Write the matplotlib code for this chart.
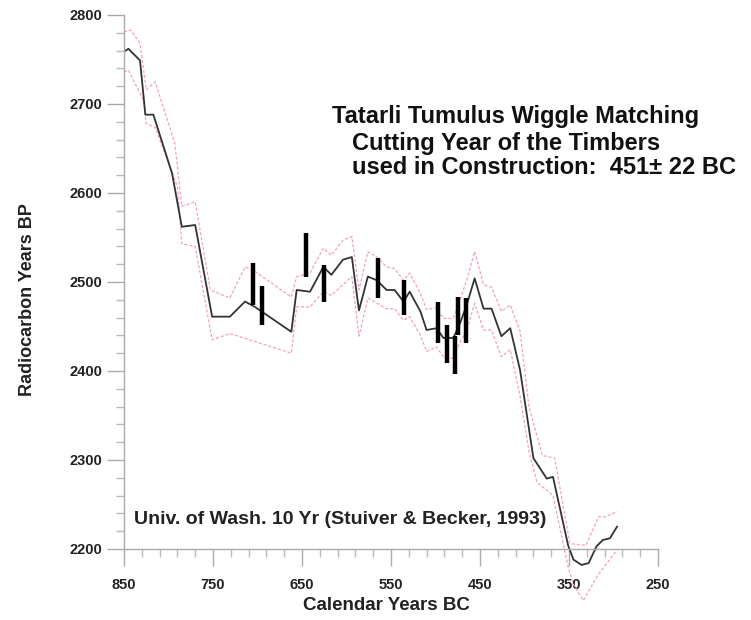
import matplotlib
matplotlib.use('Agg')
import matplotlib.pyplot as plt
import numpy as np

plt.rcParams['font.family'] = ['Liberation Sans', 'DejaVu Sans']

# calibration curve, Univ. of Wash. 10 yr (calendar BC, radiocarbon BP)
cal_bc = [850, 845, 832, 826, 817, 796, 785, 770, 751, 731, 714, 703, 662, 656,
          641, 626, 617, 604, 594, 586, 576, 566, 555, 546, 536, 529, 517, 510,
          499, 491, 480, 473, 465, 456, 446, 437, 426, 416, 405, 390, 375, 368,
          351, 345, 336, 328, 319, 312, 304, 296]
cal_bp = [2759, 2762, 2749, 2688, 2688, 2622, 2562, 2564, 2461, 2461, 2478, 2472,
          2444, 2491, 2489, 2517, 2508, 2525, 2528, 2468, 2506, 2502, 2491, 2491,
          2478, 2489, 2467, 2446, 2448, 2437, 2437, 2452, 2474, 2504, 2470, 2470,
          2439, 2448, 2401, 2302, 2279, 2281, 2204, 2188, 2182, 2184, 2203, 2210,
          2212, 2225]

# upper / lower error envelope
up_bc = [850, 842, 832, 825, 815, 793, 785, 770, 753, 731, 714, 703, 662, 656,
         641, 626, 617, 604, 594, 586, 576, 566, 555, 546, 536, 529, 517, 510,
         499, 491, 480, 473, 465, 456, 446, 437, 426, 416, 405, 395, 380, 366,
         349, 331, 317, 309, 296]
up_bp = [2781, 2783, 2768, 2716, 2725, 2656, 2585, 2590, 2491, 2482, 2517, 2512,
         2483, 2506, 2510, 2538, 2530, 2547, 2551, 2491, 2534, 2528, 2517, 2515,
         2502, 2510, 2487, 2469, 2471, 2459, 2459, 2478, 2502, 2534, 2497, 2494,
         2467, 2474, 2445, 2360, 2305, 2302, 2206, 2204, 2236, 2236, 2242]
lo_bc = [850, 845, 828, 825, 815, 790, 785, 770, 751, 731, 662, 656, 641, 626,
         617, 594, 586, 576, 555, 546, 536, 529, 517, 510, 499, 491, 480, 473,
         465, 456, 446, 437, 426, 416, 405, 395, 386, 368, 351, 345, 334, 318, 296]
lo_bp = [2736, 2738, 2704, 2678, 2674, 2607, 2543, 2540, 2435, 2442, 2420, 2472,
         2472, 2489, 2485, 2506, 2439, 2482, 2470, 2470, 2457, 2461, 2440, 2422,
         2427, 2416, 2414, 2431, 2446, 2476, 2446, 2446, 2416, 2424, 2372, 2310,
         2275, 2260, 2180, 2160, 2142, 2170, 2199]

# wiggle-matched timber samples (x position, low, high)
bar_bc = [705, 695, 645, 625, 565, 535, 497, 487, 478, 475, 466]
bar_lo = [2474, 2452, 2506, 2478, 2482, 2463, 2431, 2409, 2396, 2440, 2431]
bar_hi = [2521, 2495, 2555, 2519, 2527, 2502, 2478, 2452, 2439, 2483, 2482]

fig = plt.figure(figsize=(7.51, 6.20), dpi=100)
W, H = 751, 620
# axes placed so that 850..250 spans px 124..658 and 2810..2130 spans px 6..611
ax = fig.add_axes([124 / W, 1 - 611.2 / H, 534 / W, (611.2 - 6.1) / H])
ax.set_xlim(850, 250)
ax.set_ylim(2130, 2810)
ax.patch.set_visible(False)

pink = '#f2a2c0'
ax.plot(up_bc, up_bp, color=pink, lw=0.9, ls=(0, (2.5, 1.5)))
ax.plot(lo_bc, lo_bp, color=pink, lw=0.9, ls=(0, (2.5, 1.5)))
ax.plot(cal_bc, cal_bp, color='#333333', lw=1.3)
ax.vlines(bar_bc, bar_lo, bar_hi, color='black', lw=3.2)

for s in ['top', 'right']:
    ax.spines[s].set_visible(False)
ax.spines['left'].set_position(('data', 850))
ax.spines['left'].set_bounds(2200, 2800)
ax.spines['bottom'].set_position(('data', 2200))
ax.spines['bottom'].set_bounds(850, 250)
for s in ['left', 'bottom']:
    ax.spines[s].set_color('#aaaaaa')
    ax.spines[s].set_linewidth(1.0)

ax.set_xticks(np.arange(850, 249, -100))
ax.set_xticks(np.arange(850, 249, -20), minor=True)
ax.set_yticks(np.arange(2200, 2801, 100))
ax.set_yticks(np.arange(2200, 2801, 20), minor=True)
ax.tick_params(which='major', length=12, width=1, color='#aaaaaa',
               labelsize=10.5, labelcolor='#222222')
ax.tick_params(which='minor', length=5.5, width=1, color='#bbbbbb')
ax.tick_params(axis='x', which='major', pad=9)
ax.tick_params(axis='y', which='major', pad=3.5)
for lab in ax.get_xticklabels() + ax.get_yticklabels():
    lab.set_fontweight('bold')

fig.text(386 / W, 1 - 605 / H, 'Calendar Years BC', ha='center', va='center',
         fontsize=13.5, fontweight='bold', color='#222222')
fig.text(28 / W, 1 - 300 / H, 'Radiocarbon Years BP', ha='center', va='center',
         rotation=90, fontsize=13, fontweight='bold', color='#222222')

fig.text(134 / W, 1 - 520 / H, 'Univ. of Wash. 10 Yr (Stuiver & Becker, 1993)',
         ha='left', va='center', fontsize=14, fontweight='bold', color='#222222')

fig.text(332 / W, 1 - 117 / H, 'Tatarli Tumulus Wiggle Matching',
         ha='left', va='center', fontsize=17, fontweight='bold', color='#111111')
fig.text(352 / W, 1 - 143 / H, 'Cutting Year of the Timbers',
         ha='left', va='center', fontsize=17, fontweight='bold', color='#111111')
fig.text(352 / W, 1 - 168 / H, 'used in Construction:  451\u00b1 22 BC',
         ha='left', va='center', fontsize=17, fontweight='bold', color='#111111')

fig.savefig('out.png', dpi=100)
